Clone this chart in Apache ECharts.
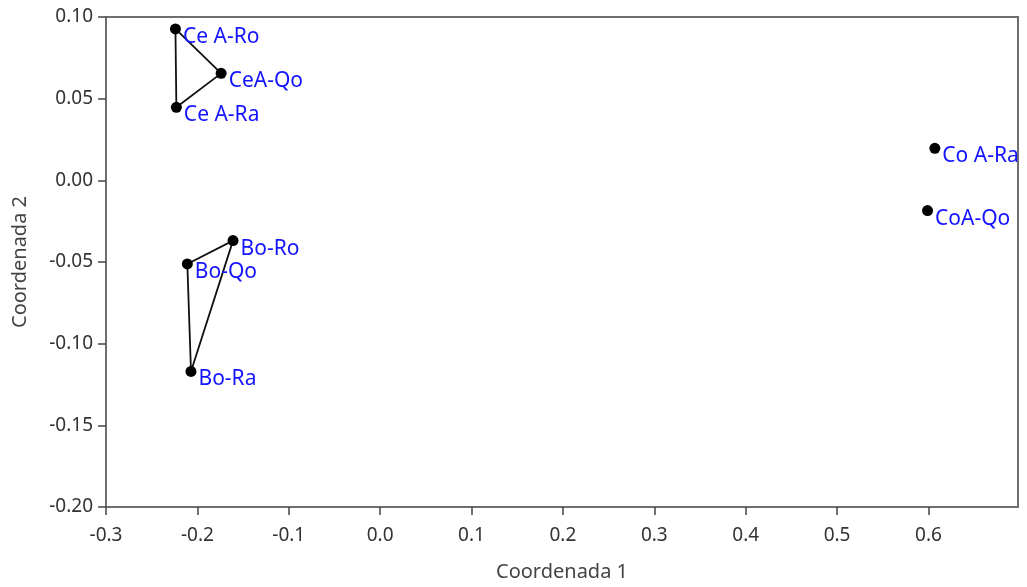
<!DOCTYPE html>
<html>
<head>
<meta charset="utf-8">
<script src="https://cdn.jsdelivr.net/npm/echarts@6/dist/echarts.min.js"></script>
<style>html,body{margin:0;padding:0;background:#fff}#c{width:1027px;height:587px}</style>
</head>
<body>
<div id="c"></div>
<script>
// Data
var names = ['Ce A-Ro', 'CeA-Qo', 'Ce A-Ra', 'Bo-Ro', 'Bo-Qo', 'Bo-Ra', 'Co A-Ra', 'CoA-Qo'];
var coord1 = [-0.224, -0.174, -0.223, -0.161, -0.211, -0.207, 0.607, 0.599];
var coord2 = [0.0927, 0.0655, 0.0447, -0.0369, -0.0512, -0.117, 0.0196, -0.0185];
// Polygons (closed outlines) connecting points by index
var groupCe = [0, 1, 2, 0];
var groupBo = [3, 4, 5, 3];
var xTicks = { min: -0.3, max: 0.698, interval: 0.1 };
var yTicks = { min: -0.20, max: 0.10, interval: 0.05 };

var pts = names.map(function (n, i) { return { name: n, value: [coord1[i], coord2[i]] }; });
function poly(idx) { return idx.map(function (i) { return [coord1[i], coord2[i]]; }); }

var font = 'Noto Sans';
var axisCol = '#6e6e6e';
var chart = echarts.init(document.getElementById('c'));
chart.setOption({
  animation: false,
  grid: { left: 106, right: 9, top: 17, bottom: 80, containLabel: false, outerBoundsMode: 'none',
    show: true, borderColor: axisCol, borderWidth: 2, backgroundColor: '#fff' },
  xAxis: {
    type: 'value', min: xTicks.min, max: xTicks.max, interval: xTicks.interval,
    name: 'Coordenada 1', nameLocation: 'middle', nameGap: 55,
    nameTextStyle: { fontFamily: font, fontSize: 20, color: '#444' },
    axisLine: { show: true, onZero: false, lineStyle: { color: axisCol, width: 2 } },
    axisTick: { show: true, length: 8, lineStyle: { color: '#444', width: 1.5 } },
    axisLabel: { showMaxLabel: false, fontFamily: font, fontSize: 19, color: '#333', margin: 19,
      formatter: function (v) { return v.toFixed(1); } },
    splitLine: { show: false }
  },
  yAxis: {
    type: 'value', min: yTicks.min, max: yTicks.max, interval: yTicks.interval,
    name: 'Coordenada 2', nameLocation: 'middle', nameGap: 76, nameRotate: 90,
    nameTextStyle: { fontFamily: font, fontSize: 20, color: '#444' },
    axisLine: { show: true, onZero: false, lineStyle: { color: axisCol, width: 2 } },
    axisTick: { show: true, length: 8, lineStyle: { color: '#444', width: 1.5 } },
    axisLabel: { fontFamily: font, fontSize: 19, color: '#333', margin: 13,
      formatter: function (v) { return v.toFixed(2); } },
    splitLine: { show: false }
  },
  series: [
    { type: 'line', data: poly(groupCe), symbol: 'none', lineStyle: { color: '#111', width: 1.8 }, z: 2 },
    { type: 'line', data: poly(groupBo), symbol: 'none', lineStyle: { color: '#111', width: 1.8 }, z: 2 },
    {
      type: 'scatter', data: pts, symbolSize: 11, itemStyle: { color: '#000', opacity: 1 }, z: 3,
      label: { show: true, position: 'right', offset: [-3, 8], distance: 5,
        formatter: '{b}', color: '#1414ff', fontFamily: font, fontSize: 21 }
    }
  ]
});
</script>
</body>
</html>
